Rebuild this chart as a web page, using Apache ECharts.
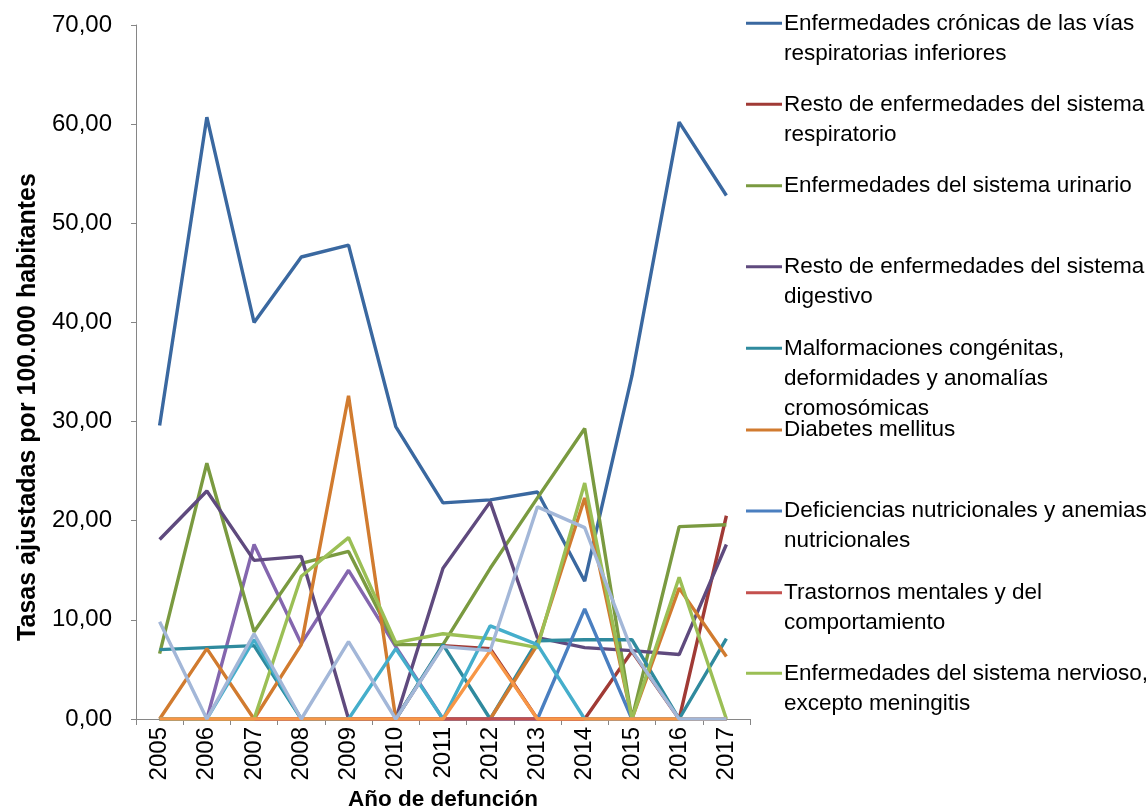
<!DOCTYPE html>
<html>
<head>
<meta charset="utf-8">
<script src="https://cdn.jsdelivr.net/npm/echarts@6/dist/echarts.min.js"></script>
<style>
html,body{margin:0;padding:0;background:#fff;}
#chart{width:1148px;height:809px;}
</style>
</head>
<body>
<div id="chart"></div>
<script>
// ---- DATA ----
const years = ['2005','2006','2007','2008','2009','2010','2011','2012','2013','2014','2015','2016','2017'];
const cronicasRespInf = [29.6, 60.7, 40.0, 46.6, 47.8, 29.5, 21.8, 22.1, 22.9, 13.9, 34.6, 60.2, 52.8];
const restoRespiratorio = [0, 0, 0, 0, 0, 0, 7.4, 7.1, 0, 0, 6.8, 0, 20.5];
const urinario = [6.6, 25.8, 8.8, 15.7, 16.9, 7.5, 7.5, 15.2, 22.3, 29.3, 0, 19.4, 19.6];
const restoDigestivo = [18.1, 23.0, 16.0, 16.4, 0, 0, 15.2, 21.9, 8.2, 7.2, 6.9, 6.5, 17.6];
const malformaciones = [7.0, 7.2, 7.4, 0, 0, 0, 7.5, 0, 7.9, 8.0, 8.0, 0, 8.1];
const diabetes = [0, 7.1, 0, 7.5, 32.6, 0, 0, 0, 7.5, 22.3, 0, 13.2, 6.3];
const deficiencias = [0, 0, 0, 0, 0, 0, 0, 0, 0, 11.1, 0, 0, 0];
const trastornos = [0, 0, 0, 0, 0, 0, 0, 0, 0, 0, 0, 0, 0];
const nervioso = [0, 0, 0, 14.4, 18.3, 7.7, 8.6, 8.1, 7.2, 23.8, 0, 14.3, 0];
// series present in the plot but not listed in the (truncated) legend
const otra10 = [0, 0, 17.6, 7.6, 15.0, 7.3, 0, 0, 0, 0, 0, 0, 0];
const otra11 = [0, 0, 8.0, 0, 0, 7.1, 0, 9.4, 7.5, 0, 0, 0, 0];
const otra12 = [0, 0, 0, 0, 0, 0, 0, 6.9, 0, 0, 0, 0, 0];
const otra13 = [9.8, 0, 8.6, 0, 7.8, 0, 7.3, 6.9, 21.4, 19.3, 6.9, 0, 0];

const seriesNames = [
  'Enfermedades crónicas de las vías respiratorias inferiores',
  'Resto de enfermedades del sistema respiratorio',
  'Enfermedades del sistema urinario',
  'Resto de enfermedades del sistema digestivo',
  'Malformaciones congénitas, deformidades y anomalías cromosómicas',
  'Diabetes mellitus',
  'Deficiencias nutricionales y anemias nutricionales',
  'Trastornos mentales y del comportamiento',
  'Enfermedades del sistema nervioso, excepto meningitis',
  'Otras causas (a)', 'Otras causas (b)', 'Otras causas (c)', 'Otras causas (d)'
];
const legendLines = [
  ['Enfermedades crónicas de las vías', 'respiratorias inferiores'],
  ['Resto de enfermedades del sistema', 'respiratorio'],
  ['Enfermedades del sistema urinario'],
  ['Resto de enfermedades del sistema', 'digestivo'],
  ['Malformaciones congénitas,', 'deformidades y anomalías', 'cromosómicas'],
  ['Diabetes mellitus'],
  ['Deficiencias nutricionales y anemias', 'nutricionales'],
  ['Trastornos mentales y del', 'comportamiento'],
  ['Enfermedades del sistema nervioso,', 'excepto meningitis']
];
const allData = [cronicasRespInf, restoRespiratorio, urinario, restoDigestivo, malformaciones,
  diabetes, deficiencias, trastornos, nervioso, otra10, otra11, otra12, otra13];

// ---- STYLE ----
const colors = ['#3A68A0', '#A03A35', '#7A9A40', '#5F4A7E', '#2F8A9E', '#D17B2F', '#4A7FC0',
  '#C4504E', '#9BBF55', '#8466AE', '#45AECB', '#F79646', '#A3B7D8'];
const zOrder = [2, 2, 2, 2, 2, 2, 2, 2, 2, 1, 2, 2, 2];
const F = "'Liberation Sans', Arial, sans-serif";
const legendY = [23.3, 104.3, 185.7, 266.7, 348.3, 430, 511, 592.7, 673.3];
const LH = 30;

const legends = legendLines.map((lines, i) => {
  const n = lines.length;
  const pad = n - 1;
  const all = [];
  for (let k = 0; k < pad; k++) all.push('\u00a0');
  lines.forEach(l => all.push(l));
  const H = all.length * LH;
  return {
    selectedMode: false,
    data: [seriesNames[i]],
    orient: 'vertical',
    left: 746,
    top: legendY[i] - H / 2,
    padding: 0,
    icon: 'rect',
    itemWidth: 36,
    itemHeight: 3,
    itemGap: 0,
    formatter: () => all.join('\n'),
    textStyle: { fontFamily: F, fontSize: 22.5, lineHeight: LH, color: '#000', padding: [0, 0, 0, -3] }
  };
});

const chart = echarts.init(document.getElementById('chart'), null, { renderer: 'canvas' });
chart.setOption({
  animation: false,
  backgroundColor: '#fff',
  grid: { left: 136, top: 25, right: 398, bottom: 90, outerBoundsMode: 'none', containLabel: false },
  xAxis: {
    type: 'category',
    data: years,
    boundaryGap: true,
    axisLine: { show: true, lineStyle: { color: '#868686', width: 1 } },
    axisTick: { show: true, length: 6, interval: 0, lineStyle: { color: '#868686' } },
    axisLabel: { rotate: 90, interval: 0, fontFamily: F, fontSize: 24, color: '#000', margin: 8 },
    splitLine: { show: false },
    name: 'Año de defunción',
    nameLocation: 'middle',
    nameGap: 67,
    nameTextStyle: { fontFamily: F, fontSize: 22.5, fontWeight: 'bold', color: '#000' }
  },
  yAxis: {
    type: 'value',
    min: 0, max: 70, interval: 10,
    axisLine: { show: true, lineStyle: { color: '#868686', width: 1 } },
    axisTick: { show: true, length: 5, lineStyle: { color: '#868686' } },
    axisLabel: { fontFamily: F, fontSize: 24, color: '#000', margin: 24,
      formatter: v => v.toFixed(2).replace('.', ',') },
    splitLine: { show: false },
    name: 'Tasas ajustadas por 100.000 habitantes',
    nameLocation: 'middle',
    nameGap: 94,
    nameRotate: 90,
    nameTextStyle: { fontFamily: F, fontSize: 25, fontWeight: 'bold', color: '#000', padding: [0, 70, 0, 0] }
  },
  legend: legends,
  series: allData.map((d, i) => ({
    name: seriesNames[i],
    type: 'line',
    data: d,
    z: zOrder[i],
    showSymbol: false,
    symbol: 'none',
    color: colors[i],
    lineStyle: { color: colors[i], width: 3.4 },
    emphasis: { disabled: true }
  }))
});
</script>
</body>
</html>
